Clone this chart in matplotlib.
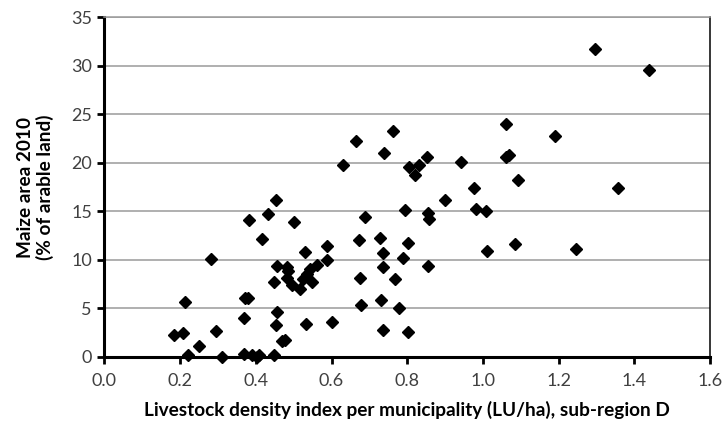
import matplotlib
matplotlib.use('Agg')
import matplotlib.pyplot as plt

# livestock density (LU/ha) vs maize share of arable land (%)
density = [
    0.184, 0.207, 0.212, 0.222, 0.249, 0.281, 0.294, 0.310,
    0.369, 0.371, 0.379, 0.382, 0.369, 0.389, 0.409, 0.402,
    0.416, 0.433, 0.453, 0.449, 0.455, 0.448, 0.456, 0.453,
    0.470, 0.477, 0.481, 0.484, 0.481, 0.495, 0.502, 0.517,
    0.525, 0.530, 0.533, 0.534, 0.543, 0.548, 0.561, 0.587,
    0.587, 0.602, 0.631, 0.664, 0.672, 0.675, 0.679, 0.688,
    0.728, 0.737, 0.737, 0.730, 0.737, 0.739, 0.763, 0.769,
    0.778, 0.788, 0.794, 0.803, 0.803, 0.805, 0.821, 0.832,
    0.852, 0.854, 0.858, 0.854, 0.900, 0.943, 0.976, 0.982,
    1.008, 1.011, 1.062, 1.060, 1.068, 1.085, 1.093, 1.190,
    1.245, 1.296, 1.356, 1.440,
]
maize = [
    2.2, 2.4, 5.6, 0.2, 1.1, 10.1, 2.7, 0.0,
    4.0, 6.1, 6.1, 14.1, 0.25, 0.2, 0.15, 0.0,
    12.1, 14.7, 16.2, 0.2, 9.4, 7.7, 4.6, 3.3,
    1.6, 1.75, 9.3, 8.8, 8.1, 7.4, 13.9, 7.0,
    8.0, 10.8, 3.4, 8.5, 9.0, 7.7, 9.5, 11.4,
    10.0, 3.6, 19.8, 22.3, 12.0, 8.1, 5.35, 14.4,
    12.25, 10.7, 9.3, 5.9, 2.8, 21.0, 23.3, 8.0,
    5.0, 10.2, 15.1, 11.75, 2.5, 19.6, 18.7, 19.8,
    20.6, 14.8, 14.25, 9.4, 16.2, 20.1, 17.4, 15.25,
    15.0, 10.9, 24.05, 20.6, 20.85, 11.6, 18.25, 22.8,
    11.1, 31.8, 17.4, 29.6,
]

plt.rcParams['font.family'] = ['Lato', 'DejaVu Sans']

fig = plt.figure(figsize=(7.27, 4.32), dpi=100)
ax = fig.add_axes([0.1437, 0.1743, 0.8329, 0.7852])

ax.plot(density, maize, ls='none', marker='D', markersize=6.2,
        color='black', zorder=3, clip_on=False)

ax.set_xlim(0, 1.6)
ax.set_ylim(0, 35)
ax.set_xticks([0.0, 0.2, 0.4, 0.6, 0.8, 1.0, 1.2, 1.4, 1.6])
ax.set_xticklabels(['0.0', '0.2', '0.4', '0.6', '0.8', '1.0', '1.2', '1.4', '1.6'])
ax.set_yticks(range(0, 36, 5))

ax.yaxis.grid(True, color='#9a9a9a', lw=1.1)
ax.set_axisbelow(True)

ax.spines['left'].set_linewidth(2.2)
ax.spines['bottom'].set_linewidth(2.2)
ax.spines['top'].set_color('#9a9a9a')
ax.spines['top'].set_linewidth(1.1)
ax.spines['right'].set_linewidth(1.1)

ax.tick_params(axis='both', direction='out', length=5, width=2,
               labelsize=13, labelcolor='#404040', color='black')
ax.tick_params(axis='x', pad=7)
ax.tick_params(axis='y', pad=4)

ax.set_xlabel('Livestock density index per municipality (LU/ha), sub-region D',
              fontsize=13.7, fontweight='bold', labelpad=8)
ax.set_ylabel('Maize area 2010\n(% of arable land)',
              fontsize=13.7, fontweight='bold', labelpad=12, linespacing=1.15)

fig.savefig('out.png', dpi=100)
